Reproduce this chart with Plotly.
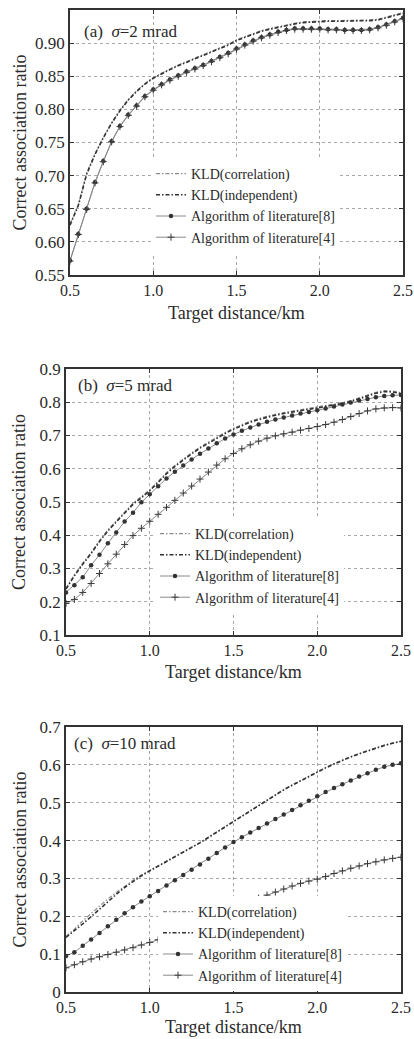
import plotly.graph_objects as go

# ---------------- data ----------------
dist = [0.50, 0.55, 0.60, 0.65, 0.70, 0.75, 0.80, 0.85, 0.90, 0.95,
        1.00, 1.05, 1.10, 1.15, 1.20, 1.25, 1.30, 1.35, 1.40, 1.45,
        1.50, 1.55, 1.60, 1.65, 1.70, 1.75, 1.80, 1.85, 1.90, 1.95,
        2.00, 2.05, 2.10, 2.15, 2.20, 2.25, 2.30, 2.35, 2.40, 2.45, 2.50]

series_names = ["KLD(correlation)", "KLD(independent)",
                "Algorithm of literature[8]", "Algorithm of literature[4]"]

# (a) sigma = 2 mrad
kld_corr_a = [0.627, 0.656, 0.704, 0.733, 0.758, 0.780, 0.799, 0.815, 0.828, 0.839,
              0.848, 0.855, 0.861, 0.867, 0.872, 0.877, 0.882, 0.887, 0.892, 0.898,
              0.905, 0.910, 0.915, 0.919, 0.922, 0.925, 0.928, 0.930, 0.932, 0.933,
              0.934, 0.934, 0.934, 0.934, 0.934, 0.934, 0.935, 0.936, 0.939, 0.942, 0.946]
kld_ind_a = [0.625, 0.655, 0.702, 0.732, 0.757, 0.779, 0.798, 0.814, 0.827, 0.838,
             0.847, 0.854, 0.860, 0.866, 0.871, 0.876, 0.881, 0.886, 0.891, 0.897,
             0.904, 0.909, 0.914, 0.918, 0.921, 0.924, 0.927, 0.929, 0.931, 0.932,
             0.933, 0.933, 0.933, 0.933, 0.933, 0.933, 0.934, 0.935, 0.938, 0.941, 0.945]
lit8_a = [0.572, 0.612, 0.650, 0.690, 0.722, 0.752, 0.775, 0.792, 0.806, 0.820,
          0.830, 0.838, 0.845, 0.851, 0.857, 0.862, 0.867, 0.873, 0.879, 0.885,
          0.892, 0.898, 0.904, 0.909, 0.913, 0.917, 0.920, 0.922, 0.922, 0.922,
          0.922, 0.921, 0.921, 0.920, 0.920, 0.920, 0.921, 0.924, 0.928, 0.933, 0.938]
lit4_a = [0.571, 0.611, 0.649, 0.689, 0.721, 0.751, 0.774, 0.791, 0.805, 0.819,
          0.829, 0.837, 0.844, 0.850, 0.856, 0.861, 0.866, 0.872, 0.878, 0.884,
          0.891, 0.897, 0.903, 0.908, 0.912, 0.916, 0.919, 0.921, 0.921, 0.921,
          0.921, 0.920, 0.920, 0.919, 0.919, 0.919, 0.920, 0.923, 0.927, 0.932, 0.937]

# (b) sigma = 5 mrad
kld_corr_b = [0.241, 0.281, 0.316, 0.348, 0.384, 0.416, 0.443, 0.470, 0.496, 0.516,
              0.537, 0.562, 0.588, 0.610, 0.630, 0.648, 0.665, 0.680, 0.695, 0.709,
              0.722, 0.733, 0.743, 0.751, 0.758, 0.764, 0.769, 0.774, 0.778, 0.782,
              0.786, 0.790, 0.794, 0.799, 0.805, 0.813, 0.822, 0.830, 0.835, 0.834, 0.829]
kld_ind_b = [0.238, 0.278, 0.313, 0.345, 0.381, 0.413, 0.440, 0.467, 0.493, 0.513,
             0.534, 0.559, 0.585, 0.607, 0.627, 0.645, 0.662, 0.677, 0.692, 0.706,
             0.719, 0.730, 0.740, 0.748, 0.755, 0.761, 0.766, 0.771, 0.775, 0.779,
             0.783, 0.787, 0.791, 0.796, 0.802, 0.810, 0.819, 0.827, 0.832, 0.831, 0.826]
lit8_b = [0.228, 0.250, 0.274, 0.310, 0.341, 0.376, 0.408, 0.441, 0.468, 0.499,
          0.523, 0.547, 0.571, 0.591, 0.610, 0.628, 0.645, 0.661, 0.677, 0.691,
          0.703, 0.714, 0.724, 0.733, 0.741, 0.748, 0.754, 0.760, 0.766, 0.771,
          0.776, 0.781, 0.787, 0.793, 0.799, 0.805, 0.810, 0.815, 0.819, 0.821, 0.822]
lit4_b = [0.195, 0.207, 0.228, 0.255, 0.285, 0.314, 0.343, 0.372, 0.399, 0.421,
          0.442, 0.463, 0.484, 0.505, 0.527, 0.548, 0.569, 0.590, 0.611, 0.630,
          0.646, 0.660, 0.672, 0.683, 0.692, 0.699, 0.705, 0.710, 0.716, 0.721,
          0.727, 0.733, 0.740, 0.748, 0.757, 0.766, 0.774, 0.780, 0.783, 0.784, 0.783]

# (c) sigma = 10 mrad
kld_corr_c = [0.147, 0.166, 0.188, 0.208, 0.226, 0.246, 0.263, 0.280, 0.295, 0.309,
              0.321, 0.333, 0.345, 0.357, 0.369, 0.381, 0.395, 0.409, 0.423, 0.438,
              0.452, 0.466, 0.480, 0.494, 0.508, 0.522, 0.535, 0.547, 0.559, 0.571,
              0.583, 0.593, 0.603, 0.613, 0.622, 0.630, 0.638, 0.645, 0.652, 0.658, 0.663]
kld_ind_c = [0.144, 0.161, 0.180, 0.199, 0.219, 0.239, 0.258, 0.276, 0.292, 0.307,
             0.320, 0.332, 0.344, 0.356, 0.368, 0.380, 0.394, 0.408, 0.422, 0.437,
             0.451, 0.465, 0.479, 0.493, 0.507, 0.521, 0.534, 0.546, 0.558, 0.570,
             0.582, 0.592, 0.602, 0.612, 0.621, 0.629, 0.637, 0.644, 0.651, 0.657, 0.662]
lit8_c = [0.095, 0.105, 0.122, 0.139, 0.156, 0.174, 0.191, 0.208, 0.224, 0.239,
          0.253, 0.267, 0.281, 0.295, 0.309, 0.323, 0.337, 0.352, 0.367, 0.382,
          0.396, 0.409, 0.421, 0.433, 0.445, 0.457, 0.469, 0.481, 0.493, 0.505,
          0.517, 0.528, 0.539, 0.549, 0.559, 0.569, 0.578, 0.587, 0.595, 0.600, 0.604]
lit4_c = [0.064, 0.072, 0.080, 0.087, 0.093, 0.099, 0.105, 0.111, 0.117, 0.124,
          0.131, 0.138, 0.145, 0.154, 0.163, 0.173, 0.183, 0.193, 0.203, 0.213,
          0.223, 0.232, 0.240, 0.248, 0.256, 0.264, 0.272, 0.280, 0.287, 0.293,
          0.298, 0.305, 0.313, 0.320, 0.327, 0.333, 0.339, 0.344, 0.349, 0.353, 0.356]

panel_labels = ["(a)  <i>σ</i>=2 mrad", "(b)  <i>σ</i>=5 mrad", "(c)  <i>σ</i>=10 mrad"]
x_ticks = [0.5, 1.0, 1.5, 2.0, 2.5]
y_ticks_a = [0.55, 0.60, 0.65, 0.70, 0.75, 0.80, 0.85, 0.90]
y_ticks_b = [0.1, 0.2, 0.3, 0.4, 0.5, 0.6, 0.7, 0.8, 0.9]
y_ticks_c = [0, 0.1, 0.2, 0.3, 0.4, 0.5, 0.6, 0.7]
x_title = "Target distance/km"
y_title = "Correct association ratio"

# ---------------- layout geometry ----------------
W, H = 414, 1039
SERIF = "Liberation Serif, Times New Roman, serif"
TXT = "#2a2a2a"

def px_y(p):
    return 1 - p / H

panels = [
    dict(data=[kld_corr_a, kld_ind_a, lit8_a, lit4_a], xdom=[70 / W, 403 / W],
         ydom=[px_y(275), px_y(10)], yr=[0.55, 0.95], yt=y_ticks_a, yfmt=".2f",
         leg=(151 / W, px_y(158)), lab=(82 / W, px_y(31)), xt=px_y(313)),
    dict(data=[kld_corr_b, kld_ind_b, lit8_b, lit4_b], xdom=[66 / W, 401 / W],
         ydom=[px_y(635), px_y(369)], yr=[0.1, 0.9], yt=y_ticks_b, yfmt=".1f",
         leg=(155 / W, px_y(518)), lab=(76 / W, px_y(385)), xt=px_y(672)),
    dict(data=[kld_corr_c, kld_ind_c, lit8_c, lit4_c], xdom=[66 / W, 401 / W],
         ydom=[px_y(992), px_y(727)], yr=[0, 0.7], yt=y_ticks_c, yfmt="",
         leg=(158 / W, px_y(896)), lab=(72 / W, px_y(743)), xt=px_y(1027)),
]

styles = [
    dict(mode="lines", line=dict(color="#8a8a8a", width=1.2, dash="4px,2px,1.5px,2px")),
    dict(mode="lines", line=dict(color="#333333", width=1.6, dash="4px,2px,1.5px,2px")),
    dict(mode="lines+markers", line=dict(color="#8a8a8a", width=1.0),
         marker=dict(symbol="circle", size=4.5, color="#333333")),
    dict(mode="lines+markers", line=dict(color="#8a8a8a", width=1.0),
         marker=dict(symbol="cross-thin-open", size=5, color="#3a3a3a",
                     line=dict(width=1.0, color="#3a3a3a"))),
]

fig = go.Figure()
layout = dict(width=W, height=H, margin=dict(l=0, r=0, t=0, b=0),
              paper_bgcolor="white", plot_bgcolor="white", showlegend=True,
              font=dict(family=SERIF, color=TXT))
annotations = []

for i, p in enumerate(panels):
    k = "" if i == 0 else str(i + 1)
    leg = "legend" + k
    for name, vals, st in zip(series_names, p["data"], styles):
        fig.add_trace(go.Scatter(x=dist, y=vals, name=name, xaxis="x" + k, yaxis="y" + k,
                                 legend=leg, showlegend=True, **st))
    axis_common = dict(showline=True, linecolor="#333", linewidth=1.5, mirror="ticks",
                       ticks="inside", ticklen=4, tickcolor="#333",
                       showgrid=True, gridcolor="#a8a8a8", griddash="dot", gridwidth=1,
                       zeroline=False, automargin=False, ticklabeloverflow="allow")
    layout["xaxis" + k] = dict(domain=p["xdom"], range=[0.5, 2.5], tickvals=x_ticks,
                               tickformat=".1f", anchor="y" + k,
                               tickfont=dict(family=SERIF, size=16, color=TXT), **axis_common)
    layout["yaxis" + k] = dict(domain=p["ydom"], range=p["yr"], tickvals=p["yt"],
                               tickformat=p["yfmt"], anchor="x" + k,
                               tickfont=dict(family=SERIF, size=17, color=TXT), **axis_common)
    layout[leg] = dict(x=p["leg"][0], y=p["leg"][1], xanchor="left", yanchor="top",
                       bgcolor="white", borderwidth=0, tracegroupgap=0,
                       font=dict(family=SERIF, size=14, color=TXT), itemwidth=30)
    annotations.append(dict(text=panel_labels[i], x=p["lab"][0], y=p["lab"][1],
                            xref="paper", yref="paper", xanchor="left", yanchor="middle",
                            showarrow=False, font=dict(family=SERIF, size=17, color=TXT)))
    annotations.append(dict(text=x_title, x=sum(p["xdom"]) / 2, y=p["xt"],
                            xref="paper", yref="paper", xanchor="center", yanchor="middle",
                            showarrow=False, font=dict(family=SERIF, size=18, color=TXT)))
    annotations.append(dict(text=y_title, x=19 / W, y=sum(p["ydom"]) / 2, textangle=-90,
                            xref="paper", yref="paper", xanchor="center", yanchor="middle",
                            showarrow=False, font=dict(family=SERIF, size=18, color=TXT)))

layout["annotations"] = annotations
fig.update_layout(**layout)
fig.write_html("out.html", config={"displayModeBar": False},
               post_script="document.body.style.margin='0';document.body.style.overflow='hidden';")
